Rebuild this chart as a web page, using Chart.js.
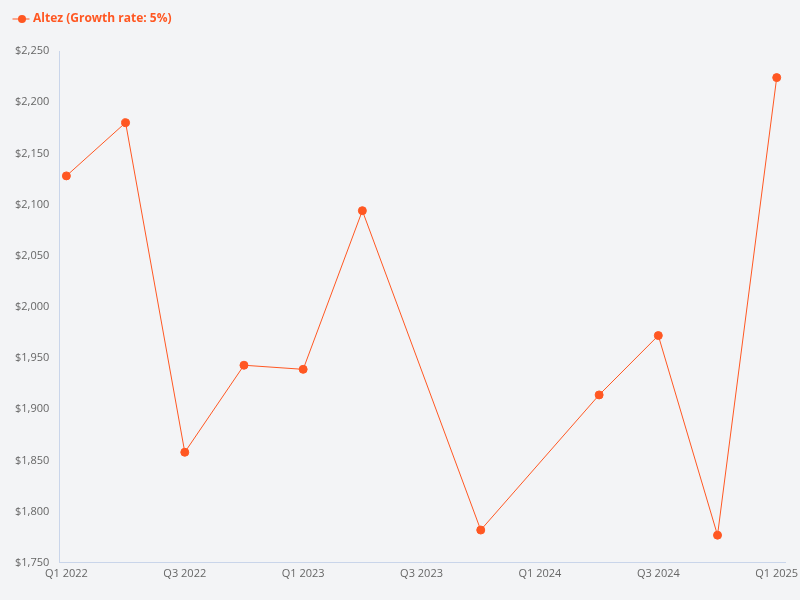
<!DOCTYPE html>
<html>
<head>
<meta charset="utf-8">
<script src="https://cdn.jsdelivr.net/npm/chart.js@4"></script>
<style>
  html, body { margin: 0; padding: 0; background: #f3f4f6; }
  .chart-wrap { width: 800px; height: 600px; }
</style>
</head>
<body>
<div class="chart-wrap">
    <canvas id="priceChart"></canvas>
</div>

<script>
const quarters = ['Q1 2022', 'Q2 2022', 'Q3 2022', 'Q4 2022', 'Q1 2023', 'Q2 2023', 'Q3 2023',
                  'Q4 2023', 'Q1 2024', 'Q2 2024', 'Q3 2024', 'Q4 2024', 'Q1 2025'];
const altezValues = [2128, 2180, 1858, 1943, 1939, 2094, null, 1782, null, 1914, 1972, 1777, 2224];
const yTicks = [1750, 1800, 1850, 1900, 1950, 2000, 2050, 2100, 2150, 2200, 2250];
const xTickIndexes = [0, 2, 4, 6, 8, 10, 12];

function createPriceChart() {
    const ctx = document.getElementById('priceChart').getContext('2d');
    const color = '#ff5722';

    const points = [];
    altezValues.forEach(function(v, i) {
        if (v !== null) points.push({ x: i, y: v });
    });

    return new Chart(ctx, {
        type: 'line',
        data: {
            datasets: [{
                label: 'Altez (Growth rate: 5%)',
                data: points,
                borderColor: color,
                backgroundColor: color,
                borderWidth: 1,
                pointRadius: 4,
                pointHoverRadius: 5,
                tension: 0
            }]
        },
        options: {
            responsive: true,
            maintainAspectRatio: false,
            animation: false,
            layout: { padding: { left: 5, right: 15, top: 3, bottom: 16 } },
            scales: {
                x: {
                    type: 'linear',
                    min: -0.12,
                    max: 12.14,
                    grid: { display: false, drawTicks: false },
                    border: { display: true, color: '#c9d5ea' },
                    afterBuildTicks: function(axis) {
                        axis.ticks = xTickIndexes.map(function(v) { return { value: v }; });
                    },
                    afterFit: function(axis) {
                        // let the last label hang past the plot edge
                        axis.paddingRight = 0;
                    },
                    ticks: {
                        color: '#666',
                        font: { family: 'Open Sans', size: 11 },
                        padding: 4,
                        maxRotation: 0,
                        callback: function(value) {
                            return quarters[value];
                        }
                    }
                },
                y: {
                    min: yTicks[0],
                    max: yTicks[yTicks.length - 1],
                    grid: { display: false, drawTicks: false },
                    border: { display: true, color: '#c9d5ea' },
                    afterBuildTicks: function(axis) {
                        axis.ticks = yTicks.map(function(v) { return { value: v }; });
                    },
                    ticks: {
                        color: '#666',
                        font: { family: 'Open Sans', size: 11 },
                        padding: 10,
                        callback: function(value) {
                            return '$' + value.toLocaleString('en-US');
                        }
                    }
                }
            },
            plugins: {
                legend: {
                    display: true,
                    align: 'start',
                    labels: {
                        color: color,
                        font: { family: 'Open Sans', size: 12, weight: 'bold' },
                        usePointStyle: true,
                        pointStyle: 'line',
                        boxWidth: 14,
                        padding: 10,
                        generateLabels: function(chart) {
                            const items = Chart.defaults.plugins.legend.labels.generateLabels(chart);
                            items.forEach(function(it) { it.pointStyle = 'line'; it.lineWidth = 1; });
                            return items;
                        }
                    }
                },
                tooltip: { enabled: false }
            }
        }
    });
}

// extra room under the legend
const legendGap = {
    id: 'legendGap',
    beforeInit: function(chart) {
        const origFit = chart.legend.fit;
        chart.legend.fit = function() {
            origFit.bind(chart.legend)();
            this.height += 16;
        };
    }
};

// draw a dot on top of the legend line, like the reference
const legendDot = {
    id: 'legendDot',
    afterDraw: function(chart) {
        const legend = chart.legend;
        if (!legend || !legend.legendHitBoxes || !legend.legendHitBoxes.length) return;
        const box = legend.legendHitBoxes[0];
        const ctx = chart.ctx;
        const boxWidth = legend.options.labels.boxWidth;
        ctx.save();
        ctx.fillStyle = '#ff5722';
        ctx.beginPath();
        ctx.arc(box.left + boxWidth / 2, box.top + box.height / 2, 4, 0, Math.PI * 2);
        ctx.fill();
        ctx.restore();
    }
};
Chart.register(legendGap, legendDot);

document.addEventListener('DOMContentLoaded', function() {
    createPriceChart();
});
</script>
</body>
</html>
